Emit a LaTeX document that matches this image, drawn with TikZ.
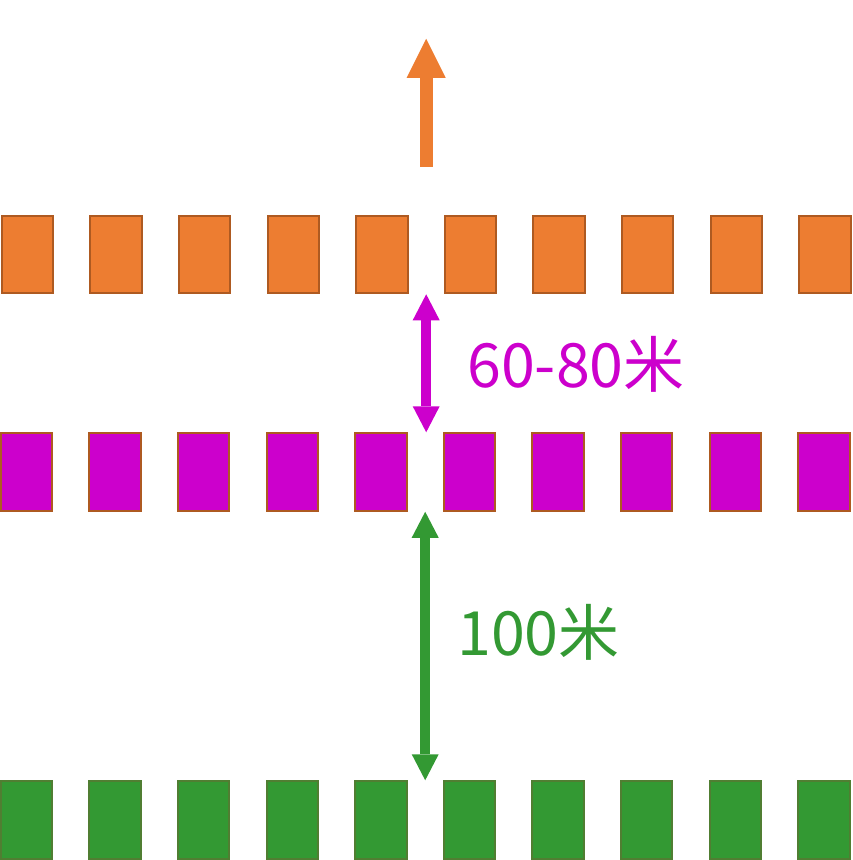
\documentclass[tikz,border=0pt]{standalone}
\usepackage{fontspec}
\newfontfamily\cjk{Noto Sans CJK SC}
\usepackage{xcolor}
\usepackage{tikz}
\usetikzlibrary{arrows.meta, positioning, calc}

\definecolor{orangefill}{HTML}{ED7D31}
\definecolor{orangeline}{HTML}{AE5A21}
\definecolor{purplefill}{HTML}{CC00CC}
\definecolor{greenfill}{HTML}{339933}
\definecolor{greenline}{HTML}{507E32}

\begin{document}
\begin{tikzpicture}[
    x=1pt, y=-1pt,
    post/.style={draw, rectangle, line width=2pt, minimum width=51.5pt,
      minimum height=77.5pt, inner sep=0pt},
    bigarrow/.style={line width=13pt, draw=orangefill,
      -{Triangle[width=39pt, length=39pt, line width=0pt]}},
    gaparrow/.style={line width=10pt,
      {Triangle[width=27pt, length=26pt, line width=0pt]}-{Triangle[width=27pt, length=26pt, line width=0pt]}},
    gaplabel/.style={font=\cjk\fontsize{61}{61}\selectfont, inner sep=0pt, anchor=base west}
]
\useasboundingbox (0,0) rectangle (853,860);

% three rows of posts
\foreach \i in {1,...,10} {
  \node[post, fill=orangefill, draw=orangeline] (o\i) at ({27.5+88.6*(\i-1)}, 254.5) {};
  \node[post, fill=purplefill, draw=orangeline] (p\i) at ({26.5+88.6*(\i-1)}, 472) {};
  \node[post, fill=greenfill, draw=greenline] (g\i) at ({26.5+88.6*(\i-1)}, 820) {};
}

% gaps between 5th and 6th post
\coordinate (otop) at ($(o5.north east)!.5!(o6.north west)$);
\coordinate (ogap) at ($(o5.south east)!.5!(o6.south west)$);
\coordinate (pgap) at ($(p5.south east)!.5!(p6.south west)$);
\coordinate (ostart) at ($(otop)+(0,-48)$);
\coordinate (oend) at ($(otop)+(0,-176)$);

\draw[bigarrow] (ostart) -- (oend);
\draw[gaparrow, draw=purplefill] (ogap) -- (ogap |- p5.north);
\draw[gaparrow, draw=greenfill] (pgap) -- (pgap |- g5.north);

\node[gaplabel, text=purplefill] (near) at (467,387) {60-80米};
\node[gaplabel, text=greenfill] (far) at (457,655) {100米};
\end{tikzpicture}
\end{document}
